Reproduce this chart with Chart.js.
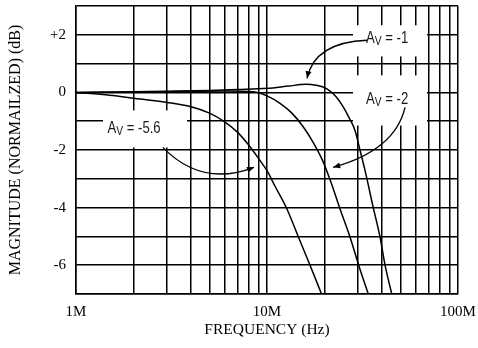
<!DOCTYPE html>
<html>
<head>
<meta charset="utf-8">
<script src="https://cdn.jsdelivr.net/npm/chart.js@4.4.0/dist/chart.umd.min.js"></script>
<style>
  html, body { margin: 0; padding: 0; background: #fff; }
  #wrap { width: 478px; height: 348px; }
</style>
</head>
<body>
<div id="wrap"><canvas id="chart" width="478" height="348"></canvas></div>
<script>
// frequency in MHz, magnitude in dB (normalized)
const freqAv1 = [1, 2, 3, 5, 7, 10, 13, 16, 18, 20.5, 23, 25.1, 27, 28.9, 30.7, 32.6, 36.0, 39.0, 41.5, 45.0];
const magAv1 = [0, 0.02, 0.04, 0.07, 0.1, 0.14, 0.22, 0.28, 0.25, 0.13, -0.15, -0.51, -0.9, -1.32, -2.01, -2.71, -4.0, -5.0, -6.0, -7.0];

const freqAv2 = [1, 3, 6, 8.5, 10, 11.7, 13.5, 15.5, 17.5, 19.5, 21.3, 24.1, 27.2, 30.2, 33.9];
const magAv2 = [0, 0.02, 0.05, 0.02, -0.12, -0.38, -0.72, -1.2, -1.75, -2.35, -3.0, -4.04, -5.02, -6.0, -7.0];

const freqAv56 = [1, 1.5, 2, 3, 4, 5, 6, 7, 8, 9, 10, 11, 12.7, 14.6, 16.8, 19.3];
const magAv56 = [0, -0.1, -0.2, -0.35, -0.5, -0.72, -1.02, -1.38, -1.82, -2.28, -2.72, -3.25, -4.04, -5.02, -6.0, -7.0];

const xGrid = [1, 2, 3, 4, 5, 6, 7, 8, 9, 10, 20, 30, 40, 50, 60, 70, 80, 90, 100];
const xTickValues = [1, 10, 100];
const xTickLabels = ['1M', '10M', '100M'];
const yTickValues = [2, 0, -2, -4, -6];
const yTickLabels = ['+2', '0', '-2', '-4', '-6'];

// callouts, in data units (MHz, dB)
const callouts = [
    { sub: 'V', rest: ' = -1', at: [33.0, 1.72], box: [28.2, 68.8, 2.33, 1.25],
      arrow: [[33.4, 1.81], [17.8, 1.74], [16.2, 0.49]] },
    { sub: 'V', rest: ' = -2', at: [33.0, -0.42], box: [28.2, 68.8, 0.59, -1.15],
      arrow: [[52.8, -0.52], [46.8, -2.01], [22.2, -2.6]] },
    { sub: 'V', rest: ' = -5.6', at: [1.462, -1.42], box: [1.385, 3.81, -0.625, -1.91],
      arrow: [[2.85, -1.91], [4.54, -3.3], [8.55, -2.6]] }
];

function pts(xs, ys) {
    return xs.map((x, i) => ({ x: x, y: ys[i] }));
}

const serif = '"Liberation Serif", "Times New Roman", serif';
const sans = '"Liberation Sans", Arial, sans-serif';

const annotate = {
    id: 'annotate',
    beforeDatasetsDraw(chart) {
        const ctx = chart.ctx;
        const xs = chart.scales.x, ys = chart.scales.y;
        ctx.save();
        ctx.fillStyle = '#fff';
        callouts.forEach(c => {
            const x0 = xs.getPixelForValue(c.box[0]);
            const x1 = xs.getPixelForValue(c.box[1]);
            const y0 = ys.getPixelForValue(c.box[2]);
            const y1 = ys.getPixelForValue(c.box[3]);
            ctx.fillRect(x0, y0, x1 - x0, y1 - y0);
        });
        ctx.restore();
    },
    afterDatasetsDraw(chart) {
        const ctx = chart.ctx;
        const xs = chart.scales.x, ys = chart.scales.y;
        const px = p => ({ x: xs.getPixelForValue(p[0]), y: ys.getPixelForValue(p[1]) });
        callouts.forEach(c => {
            // label, condensed look
            const a = px(c.at);
            ctx.save();
            ctx.translate(a.x, a.y);
            ctx.scale(0.82, 1);
            ctx.fillStyle = '#1a1a1a';
            ctx.textBaseline = 'alphabetic';
            ctx.font = '16px ' + sans;
            ctx.fillText('A', 0, 0);
            let w = ctx.measureText('A').width;
            ctx.font = '12.5px ' + sans;
            ctx.fillText(c.sub, w, 2);
            w += ctx.measureText(c.sub).width;
            ctx.font = '16px ' + sans;
            ctx.fillText(c.rest, w, 0);
            ctx.restore();

            // arrow
            const s = px(c.arrow[0]), k = px(c.arrow[1]), e = px(c.arrow[2]);
            ctx.save();
            ctx.strokeStyle = '#000';
            ctx.fillStyle = '#000';
            ctx.lineWidth = 1.3;
            ctx.beginPath();
            ctx.moveTo(s.x, s.y);
            ctx.quadraticCurveTo(k.x, k.y, e.x, e.y);
            ctx.stroke();
            const ang = Math.atan2(e.y - k.y, e.x - k.x);
            const len = 7, half = 3;
            ctx.beginPath();
            ctx.moveTo(e.x, e.y);
            ctx.lineTo(e.x - len * Math.cos(ang) + half * Math.sin(ang), e.y - len * Math.sin(ang) - half * Math.cos(ang));
            ctx.lineTo(e.x - len * Math.cos(ang) - half * Math.sin(ang), e.y - len * Math.sin(ang) + half * Math.cos(ang));
            ctx.closePath();
            ctx.fill();
            ctx.restore();
        });
    }
};

const lineStyle = {
    borderColor: '#000',
    borderWidth: 1.5,
    pointRadius: 0,
    fill: false,
    cubicInterpolationMode: 'monotone'
};

const ctx = document.getElementById('chart').getContext('2d');
const chart = new Chart(ctx, {
    type: 'line',
    data: {
        datasets: [
            Object.assign({ label: 'AV = -1', data: pts(freqAv1, magAv1) }, lineStyle),
            Object.assign({ label: 'AV = -2', data: pts(freqAv2, magAv2) }, lineStyle),
            Object.assign({ label: 'AV = -5.6', data: pts(freqAv56, magAv56) }, lineStyle)
        ]
    },
    options: {
        responsive: false,
        devicePixelRatio: 1,
        animation: false,
        layout: { padding: { top: 6, right: 20, bottom: 0, left: 0 } },
        plugins: {
            legend: { display: false },
            tooltip: { enabled: false }
        },
        scales: {
            x: {
                type: 'logarithmic',
                min: 1,
                max: 100,
                afterBuildTicks: s => { s.ticks = xGrid.map(v => ({ value: v })); },
                afterFit: s => { s.height = 54; s.paddingLeft = 0; s.paddingRight = 0; },
                ticks: {
                    autoSkip: false,
                    maxRotation: 0,
                    minRotation: 0,
                    padding: 9,
                    color: '#000',
                    font: { family: serif, size: 15 },
                    callback: v => {
                        const i = xTickValues.indexOf(v);
                        return i >= 0 ? xTickLabels[i] : '';
                    }
                },
                grid: { color: '#000', lineWidth: 1.5, drawTicks: false },
                border: { color: '#000', width: 1.5 },
                title: {
                    display: true,
                    text: 'FREQUENCY (Hz)',
                    color: '#000',
                    font: { family: serif, size: 15.5 },
                    padding: { top: 0, bottom: 9 }
                }
            },
            y: {
                type: 'linear',
                min: -7,
                max: 3,
                afterFit: s => { s.width = 76; s.paddingTop = 0; s.paddingBottom = 0; },
                ticks: {
                    stepSize: 1,
                    autoSkip: false,
                    padding: 10,
                    color: '#000',
                    font: { family: serif, size: 15 },
                    callback: v => {
                        const i = yTickValues.indexOf(v);
                        return i >= 0 ? yTickLabels[i] : '';
                    }
                },
                grid: { color: '#000', lineWidth: 1.5, drawTicks: false },
                border: { color: '#000', width: 1.5 },
                title: {
                    display: true,
                    text: 'MAGNITUDE (NORMAILZED) (dB)',
                    color: '#000',
                    font: { family: serif, size: 16 },
                    padding: { top: 6, bottom: 0 }
                }
            }
        }
    },
    plugins: [annotate]
});
</script>
</body>
</html>
